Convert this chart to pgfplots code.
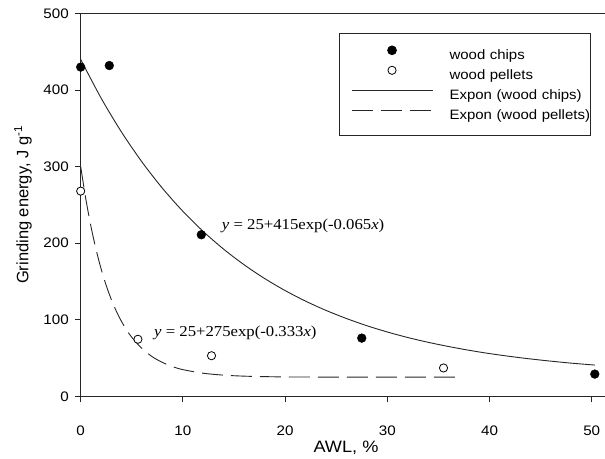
\documentclass[border=0pt]{standalone}
\usepackage{pgfplots}
\pgfplotsset{compat=1.18}
\usepackage{fontspec}
% the chart's lettering is set slightly wide
\setmainfont{Liberation Sans}[FakeStretch=1.1]
\newfontfamily\ylabfont{Liberation Sans}
\newfontfamily\eqfont{Liberation Serif}[FakeStretch=1.1]

\pgfplotsset{
  marklegend/.style={legend image code/.code={\path (0pt,-4pt) (109pt,9pt);
    \draw[##1] plot coordinates {(51.9pt,3.8pt)};}},
  linelegend/.style={legend image code/.code={\path (0pt,-4pt) (109pt,9pt);
    \draw[##1] (11.4pt,3.8pt) -- (92.4pt,3.8pt);}},
}

\begin{document}
\begin{tikzpicture}
\begin{axis}[
  name=ax,
  scale only axis,
  width=524.3pt, height=382.8pt,
  xmin=0, xmax=51.3, ymin=0, ymax=500,
  clip=false,
  axis x line*=bottom, axis y line*=left,
  axis line style={line width=0.9pt, black!85},
  xtick={0,10,...,50}, ytick={0,100,...,500},
  tick align=outside, major tick length=6pt,
  tick style={line width=0.9pt, black!85},
  /pgf/number format/assume math mode=true,
  ticklabel style={font=\fontsize{13.8}{16}\selectfont},
  xticklabel style={yshift=-20pt},
  yticklabel style={xshift=-2.4pt},
  xlabel={AWL, \%},
  ylabel={Grinding energy, J g\textsuperscript{-1}},
  every axis x label/.style={at={(rel axis cs:0.506,0)}, anchor=base, yshift=-56.5pt,
    font=\fontsize{16.5}{19}\selectfont},
  every axis y label/.style={at={(rel axis cs:0,0.5)}, xshift=-57.7pt, rotate=90,
    anchor=center, font=\ylabfont\fontsize{16.5}{19}\selectfont},
  legend cell align=left,
  legend style={at={(0.4932,0.9498)}, anchor=north west, draw=black!85,
    line width=0.8pt, inner xsep=0pt, inner ysep=11pt,
    font=\fontsize{13.6}{16}\selectfont, row sep=0pt,
    nodes={inner sep=0pt, text height=15pt, text depth=5pt,
      text width=141pt, align=left}},
]
% measured grinding energy
\addplot[only marks, mark=*, mark size=4.4pt, black, marklegend]
  coordinates {(0,430) (2.8,432) (11.8,211) (27.5,76) (50.3,29)};
\addlegendentry{wood chips}
\addplot[only marks, mark=*, mark size=4.1pt,
  mark options={fill=white, draw=black, line width=0.8pt}, marklegend]
  coordinates {(0,268) (5.6,74.5) (12.8,53) (35.5,37)};
\addlegendentry{wood pellets}
% fitted curves: y = 25+415exp(-0.065x) and y = 25+275exp(-0.333x), tabulated
\addplot[black!85, line width=0.9pt, smooth, linelegend]
  coordinates {(0,440.0)(2,389.4)(4,345.0)(6,306.0)(8,271.7)(10,241.6)(12,215.2)
    (14,192.0)(16,171.7)(18,153.8)(20,138.1)(22,124.3)(24,112.2)(26,101.6)
    (28,92.2)(30,84.0)(32,76.8)(34,70.5)(36,65.0)(38,60.1)(40,55.8)(42,52.1)
    (44,48.8)(46,45.9)(48,43.3)(50,41.1)(50.3,40.8)};
\addlegendentry{Expon (wood chips)}
\addplot[black!85, line width=0.9pt, smooth, dash pattern=on 21pt off 8pt, linelegend]
  coordinates {(0,300.0)(0.5,257.8)(1,222.1)(1.5,191.9)(2,166.3)(2.5,144.6)
    (3,126.3)(3.5,110.7)(4,97.6)(4.5,86.5)(5,77.0)(6,62.3)(7,51.7)(8,44.2)
    (9,38.7)(10,34.8)(12,30.1)(14,27.6)(16,26.3)(18,25.7)(20,25.3)(24,25.1)
    (28,25.0)(37,25.0)};
\addlegendentry{\mbox{Expon (wood pellets)}}
% equations of the fits
\node[anchor=base west, inner sep=0pt, font=\eqfont\fontsize{15.2}{18}\selectfont]
  at (axis cs:13.8,218) {\textit{y} = 25+415exp(-0.065\textit{x})};
\node[anchor=base west, inner sep=0pt, font=\eqfont\fontsize{15.2}{18}\selectfont]
  at (axis cs:7.17,77.8) {\textit{y} = 25+275exp(-0.333\textit{x})};
% top frame line
\draw[line width=0.9pt, black!85] (rel axis cs:0,1) -- (rel axis cs:1,1);
\coordinate (bl) at (rel axis cs:0,0);
\coordinate (tr) at (rel axis cs:1,1);
\end{axis}
\pgfresetboundingbox
\path[use as bounding box] ([xshift=-80.7pt,yshift=-62.7pt]bl) rectangle ([yshift=13.5pt]tr);
\end{tikzpicture}
\end{document}
